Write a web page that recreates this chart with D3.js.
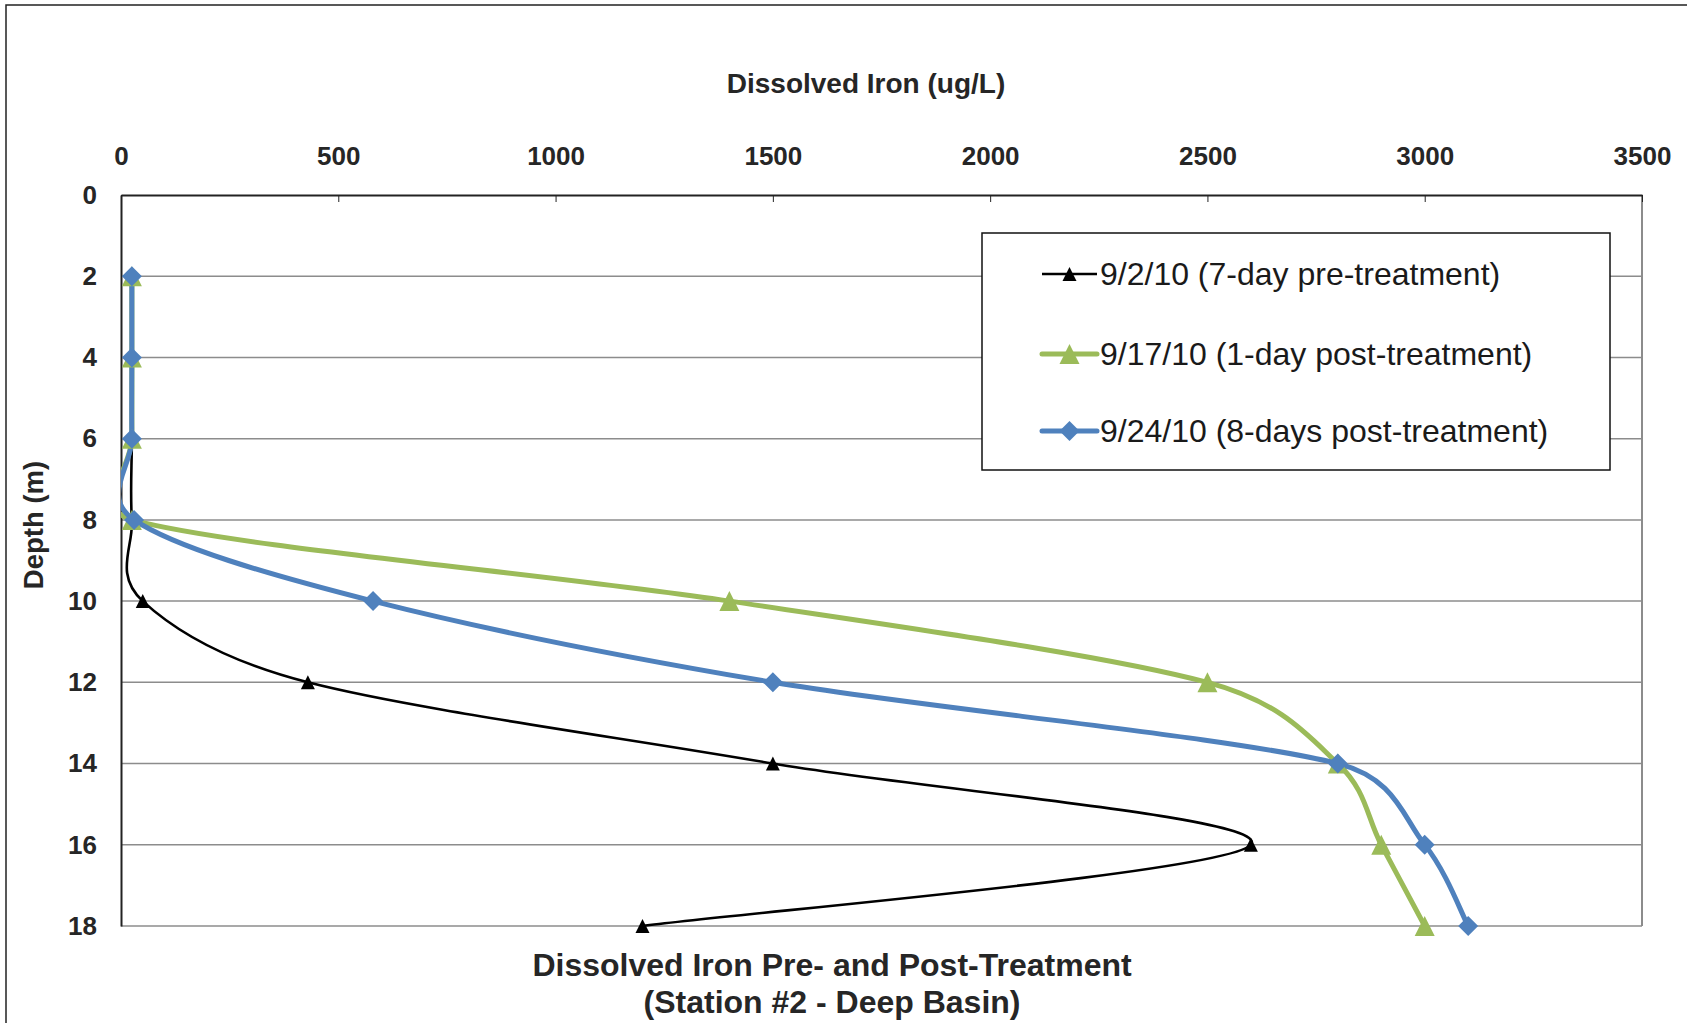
<!DOCTYPE html>
<html>
<head>
<meta charset="utf-8">
<script src="https://cdn.jsdelivr.net/npm/d3@7"></script>
<style>
  html, body { margin: 0; padding: 0; background: #fff; }
  svg { display: block; font-family: "Liberation Sans", Arial, sans-serif; }
</style>
</head>
<body>
<svg id="chart" width="1687" height="1023"></svg>
<script>
// Sampling depths (m) and dissolved iron concentrations (ug/L)
const depths = [2, 4, 6, 8, 10, 12, 14, 16, 18];
const preTreatment = [25, 25, 25, 25, 50, 430, 1500, 2600, 1200];      // 9/2/10
const postTreatment1 = [25, 25, 25, 25, 1400, 2500, 2800, 2900, 3000]; // 9/17/10
const postTreatment8 = [25, 25, 25, 30, 580, 1500, 2800, 3000, 3100];  // 9/24/10

const seriesNames = [
  "9/2/10 (7-day pre-treatment)",
  "9/17/10 (1-day post-treatment)",
  "9/24/10 (8-days post-treatment)"
];
const ironTicks = [0, 500, 1000, 1500, 2000, 2500, 3000, 3500];
const depthTicks = [0, 2, 4, 6, 8, 10, 12, 14, 16, 18];

// Marker shapes, sized in pixels (bounding box centred on the point)
const triangle = (w, h) => `M0,${-h / 2}L${w / 2},${h / 2}L${-w / 2},${h / 2}Z`;
const diamond = r => `M0,${-r}L${r},0L0,${r}L${-r},0Z`;

const series = [
  { name: seriesNames[0], values: preTreatment, color: "#000000", width: 2.6, marker: triangle(14, 14) },
  { name: seriesNames[1], values: postTreatment1, color: "#9BBB59", width: 5, marker: triangle(20, 20) },
  { name: seriesNames[2], values: postTreatment8, color: "#4F81BD", width: 5, marker: diamond(10) }
];

const svg = d3.select("#chart");
const plot = { left: 121, top: 195, right: 1642, bottom: 926 };

const x = d3.scaleLinear().domain([0, 3500]).range([plot.left, plot.right]);
const y = d3.scaleLinear().domain([0, 18]).range([plot.top, plot.bottom]);

// Outer chart frame
svg.append("rect")
  .attr("x", 6).attr("y", 5).attr("width", 1720).attr("height", 1060)
  .attr("fill", "none").attr("stroke", "#222").attr("stroke-width", 1.5);

// Horizontal gridlines
svg.append("g").selectAll("line")
  .data(depthTicks.filter(d => d > 0))
  .join("line")
  .attr("x1", plot.left).attr("x2", plot.right)
  .attr("y1", d => y(d)).attr("y2", d => y(d))
  .attr("stroke", "#8c8c8c").attr("stroke-width", 1.5);

// Right border of plot area
svg.append("line")
  .attr("x1", plot.right).attr("x2", plot.right)
  .attr("y1", plot.top).attr("y2", plot.bottom)
  .attr("stroke", "#8c8c8c").attr("stroke-width", 2);

// Top (concentration) axis
const xAxis = svg.append("g")
  .attr("transform", `translate(0,${plot.top})`)
  .call(d3.axisTop(x).tickValues(ironTicks).tickFormat(d3.format("d"))
    .tickSizeInner(-7).tickSizeOuter(0).tickPadding(30));
xAxis.select(".domain").attr("stroke", "#222").attr("stroke-width", 2);
xAxis.selectAll(".tick line").attr("stroke", "#222").attr("stroke-width", 1);
xAxis.selectAll("text")
  .attr("font-size", 26).attr("font-weight", "bold").attr("fill", "#262626")
  .attr("font-family", "Liberation Sans, Arial, sans-serif");

// Left (depth) axis
const yAxis = svg.append("g")
  .attr("transform", `translate(${plot.left},0)`)
  .call(d3.axisLeft(y).tickValues(depthTicks).tickFormat(d3.format("d")).tickSize(0).tickPadding(24));
yAxis.select(".domain").attr("stroke", "#222").attr("stroke-width", 2);
yAxis.selectAll("text")
  .attr("font-size", 26).attr("font-weight", "bold").attr("fill", "#262626")
  .attr("font-family", "Liberation Sans, Arial, sans-serif");

// Axis titles
svg.append("text")
  .attr("x", 866).attr("y", 93)
  .attr("text-anchor", "middle")
  .attr("font-size", 28).attr("font-weight", "bold").attr("fill", "#262626")
  .text("Dissolved Iron (ug/L)");

svg.append("text")
  .attr("transform", "translate(43,525) rotate(-90)")
  .attr("text-anchor", "middle")
  .attr("font-size", 27.5).attr("font-weight", "bold").attr("fill", "#262626")
  .text("Depth (m)");

// Chart title below the plot
const title = svg.append("text")
  .attr("x", 832).attr("y", 976)
  .attr("text-anchor", "middle")
  .attr("font-size", 32).attr("font-weight", "bold").attr("fill", "#262626");
title.append("tspan").attr("x", 832).attr("dy", 0).text("Dissolved Iron Pre- and Post-Treatment");
title.append("tspan").attr("x", 832).attr("dy", 37).text("(Station #2 - Deep Basin)");

// Clip the smoothed profiles to the plot area
svg.append("defs").append("clipPath").attr("id", "plot-clip")
  .append("rect")
  .attr("x", plot.left).attr("y", plot.top - 20)
  .attr("width", plot.right - plot.left).attr("height", plot.bottom - plot.top + 40);

// Spreadsheet-style smoothed line: cubic Bezier segments whose handles follow
// the neighbouring points (1/6 of the chord) but never exceed half the segment.
function smoothPath(pts) {
  const p = d3.path();
  p.moveTo(pts[0][0], pts[0][1]);
  const cap = (v, lim) => {
    const len = Math.hypot(v[0], v[1]);
    return len > lim && len > 0 ? [v[0] * lim / len, v[1] * lim / len] : v;
  };
  for (let i = 0; i < pts.length - 1; i++) {
    const p0 = pts[i - 1] || pts[i];
    const p1 = pts[i];
    const p2 = pts[i + 1];
    const p3 = pts[i + 2] || pts[i + 1];
    const half = Math.hypot(p2[0] - p1[0], p2[1] - p1[1]) / 2;
    const t1 = cap([(p2[0] - p0[0]) / 6, (p2[1] - p0[1]) / 6], half);
    const t2 = cap([(p3[0] - p1[0]) / 6, (p3[1] - p1[1]) / 6], half);
    p.bezierCurveTo(p1[0] + t1[0], p1[1] + t1[1], p2[0] - t2[0], p2[1] - t2[1], p2[0], p2[1]);
  }
  return p.toString();
}

const lines = svg.append("g").attr("clip-path", "url(#plot-clip)");
series.forEach(s => {
  const pts = s.values.map((v, i) => [x(v), y(depths[i])]);
  lines.append("path")
    .attr("d", smoothPath(pts))
    .attr("fill", "none")
    .attr("stroke", s.color)
    .attr("stroke-width", s.width)
    .attr("stroke-linejoin", "round");
});

const markers = svg.append("g");
series.forEach(s => {
  markers.append("g").selectAll("path")
    .data(s.values.map((v, i) => [v, depths[i]]))
    .join("path")
    .attr("transform", d => `translate(${x(d[0])},${y(d[1])})`)
    .attr("d", s.marker)
    .attr("fill", s.color);
});

// Legend
const legend = svg.append("g");
legend.append("rect")
  .attr("x", 982).attr("y", 233).attr("width", 628).attr("height", 237)
  .attr("fill", "#fff").attr("stroke", "#111").attr("stroke-width", 1.5);

const legendRows = [274, 354, 431];
series.forEach((s, i) => {
  const row = legend.append("g").attr("transform", `translate(0,${legendRows[i]})`);
  row.append("line")
    .attr("x1", 1042).attr("x2", 1097)
    .attr("stroke", s.color).attr("stroke-width", s.width)
    .attr("stroke-linecap", i === 0 ? "butt" : "round");
  row.append("path")
    .attr("transform", "translate(1069.5,0)")
    .attr("d", s.marker)
    .attr("fill", s.color);
  row.append("text")
    .attr("x", 1100).attr("y", 0).attr("dy", "0.35em")
    .attr("font-size", 32).attr("fill", "#1a1a1a")
    .text(s.name);
});
</script>
</body>
</html>
